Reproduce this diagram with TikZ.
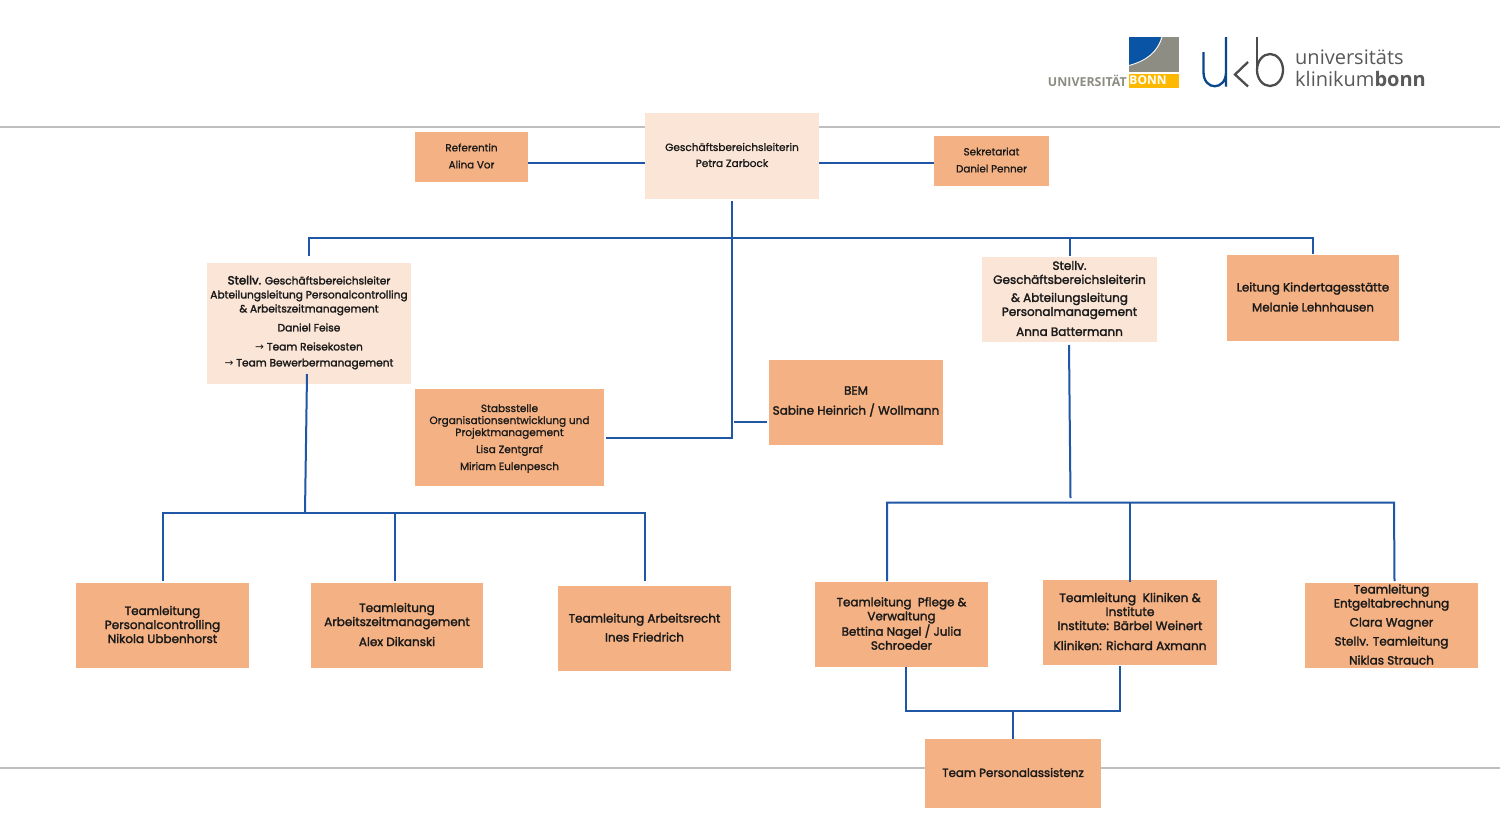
\documentclass[tikz,border=0pt]{standalone}
\usepackage{fontspec}
\setmainfont[FakeBold=2]{Poppins}
\newfontfamily\lightf[FakeBold=1.1]{Poppins}
\newfontfamily\heavyf[FakeBold=3]{Poppins}
\newfontfamily\logofont{Open Sans}
\newfontfamily\arrowfont{DejaVu Sans}
\definecolor{orangebox}{HTML}{F4B183}
\definecolor{palebox}{HTML}{FBE5D6}
\definecolor{linkblue}{HTML}{1F56A5}
\definecolor{rulegrey}{HTML}{BFBFBF}
\definecolor{txt}{HTML}{1A1A1A}
\definecolor{logoblue}{HTML}{0A54A5}
\definecolor{logogrey}{HTML}{8E8D83}
\definecolor{logoyellow}{HTML}{FCB900}
\newcommand{\ft}[2]{\fontsize{#1}{#2}\selectfont}
\newcommand{\arr}{{\arrowfont →}}
\tikzset{
 x=1pt,y=-1pt,
 boxbase/.style={inner sep=0pt,text=txt,align=center},
 boxnudge/.style={yshift=1pt},
 link/.style={draw=linkblue,line width=2pt},
 grule/.style={draw=rulegrey,line width=1.5pt},
}
\newcommand{\bx}[9]{% fill,name,x0,y0,x1,y1,size,leading,text
 \path[fill=#1] (#3,#4) rectangle (#5,#6);
 \node[boxbase,boxnudge,font=\ft{#7}{#8}] (#2) at ({(#3+#5)/2},{(#4+#6)/2}) {#9};
}
\begin{document}
\begin{tikzpicture}
\useasboundingbox (0,0) rectangle (1500,838);
\fill[white] (0,0) rectangle (1500,838);
% rules
\coordinate (r1a) at (0,127); \coordinate (r1b) at (1500,127);
\coordinate (r2a) at (0,768); \coordinate (r2b) at (1500,768);
\draw[grule] (r1a) -- (r1b);
\draw[grule] (r2a) -- (r2b);
% boxes
\bx{palebox}{chef}{645}{113}{819}{199}{10.5}{16}{\lightf Geschäftsbereichsleiterin\\\lightf Petra Zarbock}
\bx{orangebox}{ref}{415}{132}{528}{182}{10.3}{17}{\lightf Referentin\\\lightf Alina Vor}
\bx{orangebox}{sek}{934}{136}{1049}{186}{10.3}{17}{\lightf Sekretariat\\\lightf Daniel Penner}
\bx{palebox}{feise}{207}{263}{411}{384}{10.6}{14}{{\heavyf\ft{11.8}{14}Stellv.} Geschäftsbereichsleiter\\Abteilungsleitung Personalcontrolling\\\& Arbeitszeitmanagement\\[5pt]Daniel Feise\\[5pt]\arr{} Team Reisekosten\\[2pt]\arr{} Team Bewerbermanagement}
\bx{palebox}{batt}{982}{257}{1157}{342}{12}{14}{Stellv.\\Geschäftsbereichsleiterin\\[4pt]\& Abteilungsleitung\\Personalmanagement\\[6pt]Anna Battermann}
\bx{orangebox}{kita}{1227}{255}{1399}{341}{11.9}{20}{Leitung Kindertagesstätte\\Melanie Lehnhausen}
\bx{orangebox}{bem}{769}{360}{943}{445}{12}{20}{BEM\\Sabine Heinrich / Wollmann}
\tikzset{boxnudge/.style={yshift=-1pt}}
\bx{orangebox}{stab}{415}{389}{604}{486}{10.5}{12}{\lightf Stabsstelle\\\lightf Organisationsentwicklung und\\\lightf Projektmanagement\\[5pt]\lightf Lisa Zentgraf\\[5pt]\lightf Miriam Eulenpesch}
\tikzset{boxnudge/.style={yshift=1pt}}
\bx{orangebox}{tl1}{76}{583}{249}{668}{12}{14}{Teamleitung\\Personalcontrolling\\Nikola Ubbenhorst}
\bx{orangebox}{tl2}{311}{583}{483}{668}{12}{14}{Teamleitung\\Arbeitszeitmanagement\\[6pt]Alex Dikanski}
\bx{orangebox}{tl3}{558}{586}{731}{671}{12}{19}{Teamleitung Arbeitsrecht\\Ines Friedrich}
\bx{orangebox}{tl4}{815}{582}{988}{667}{11.9}{14}{Teamleitung~ Pflege \&\\Verwaltung\\Bettina Nagel / Julia\\Schroeder}
\bx{orangebox}{tl5}{1043}{580}{1217}{665}{12.2}{14}{Teamleitung~ Kliniken \&\\Institute\\Institute: Bärbel Weinert\\[6pt]Kliniken: Richard Axmann}
\bx{orangebox}{tl6}{1305}{583}{1478}{668}{12}{14}{Teamleitung\\Entgeltabrechnung\\[5pt]Clara Wagner\\[5pt]Stellv. Teamleitung\\[5pt]Niklas Strauch}
\bx{orangebox}{pa}{925}{739}{1101}{808}{11.8}{16}{Team Personalassistenz}
% junctions
\coordinate (busL) at (308.5,238);
\coordinate (busB) at (1069.5,238);
\coordinate (busK) at (1313,238);
\coordinate (feiseIn) at (308.5,256);
\coordinate (battIn) at (1069.5,256);
\coordinate (kitaIn) at (1313,254);
\coordinate (feiseOut) at (307,374);
\coordinate (lowL) at (305,512.5);
\coordinate (l1) at (163,512.5);
\coordinate (l1b) at (163,581);
\coordinate (l2) at (394.5,512.5);
\coordinate (l2b) at (394.5,581);
\coordinate (l3) at (645,512.5);
\coordinate (l3b) at (645,581);
\coordinate (battOut) at (1069,345);
\coordinate (lowRin) at (1070.5,498);
\coordinate (rr1) at (887,502.5);
\coordinate (rr1b) at (887,581);
\coordinate (rr2) at (1130,502.5);
\coordinate (rr2b) at (1130,582);
\coordinate (rr3) at (1394,502.5);
\coordinate (rr3b) at (1394.5,581);
\coordinate (cOut) at (732,201);
\coordinate (cDown) at (732,437.5);
\coordinate (stabOut) at (606,437.5);
\coordinate (bemIn) at (767,421.5);
\coordinate (bemJ) at (734,421.5);
\coordinate (refOut) at (528,163);
\coordinate (chefL) at (645,163);
\coordinate (chefR) at (819,163);
\coordinate (sekIn) at (934,163);
\coordinate (p1) at (906,667);
\coordinate (p1b) at (906,711);
\coordinate (p2) at (1120,666);
\coordinate (p2b) at (1120,711);
\coordinate (pm) at (1013,711);
\coordinate (pin) at (1013,739);
% connectors
\draw[link] (refOut) -- (chefL);
\draw[link] (chefR) -- (sekIn);
\draw[link] (feiseIn) -- (busL) -- (busK) -- (kitaIn);
\draw[link] (busB) -- (battIn);
\draw[link] (cOut) -- (cDown) -- (stabOut);
\draw[link] (bemJ) -- (bemIn);
\draw[link] (feiseOut) -- (lowL);
\draw[link] (l1b) -- (l1) -- (l3) -- (l3b);
\draw[link] (l2) -- (l2b);
\draw[link] (battOut) -- (lowRin);
\draw[link] (rr1b) -- (rr1) -- (rr3) -- (rr3b);
\draw[link] (rr2) -- (rr2b);
\draw[link] (p1) -- (p1b) -- (p2b) -- (p2);
\draw[link] (pm) -- (pin);
% logo Uni Bonn
\fill[logogrey] (1129,37) rectangle (1179,72);
\fill[logoyellow] (1129,74) rectangle (1179,88);
\fill[logoblue] (1129,37) -- (1161,37) .. controls (1157,52) and (1145,61) .. (1129,65) -- cycle;
\draw[white,line width=0.8pt] (1129,65.5) .. controls (1146,61) and (1158,52) .. (1162,37);
\node[anchor=east,inner sep=0pt,text=logogrey,font=\logofont\bfseries\fontsize{12.4}{14}\selectfont] (lgU) at (1127,80.5) {UNIVERSITÄT};
\node[anchor=center,inner sep=0pt,text=white,font=\logofont\bfseries\fontsize{12}{14}\selectfont] (lgB) at (1148,80.5) {BONN};
% logo ukb
\draw[logoblue!85!black,line width=2.3pt] (1203.5,52) -- (1203.5,72) .. controls (1203.5,91) and (1226,91) .. (1226,72) (1226,37) -- (1226,86.5);
\draw[black!70,line width=2.3pt] (1248,62) -- (1235,74.5) -- (1248,86.5);
\draw[black!70,line width=2.3pt] (1257,37) -- (1257,70);
\draw[black!70,line width=2.3pt] (1270,70) ellipse[x radius=13,y radius=16];
\node[anchor=west,inner sep=0pt,text=black!65,font=\logofont\fontsize{20}{22}\selectfont] (lg1) at (1295,57) {universitäts};
\node[anchor=west,inner sep=0pt,text=black!65,font=\logofont\fontsize{20}{22}\selectfont] (lg2) at (1295,79) {klinikum\textbf{bonn}};
\end{tikzpicture}
\end{document}
